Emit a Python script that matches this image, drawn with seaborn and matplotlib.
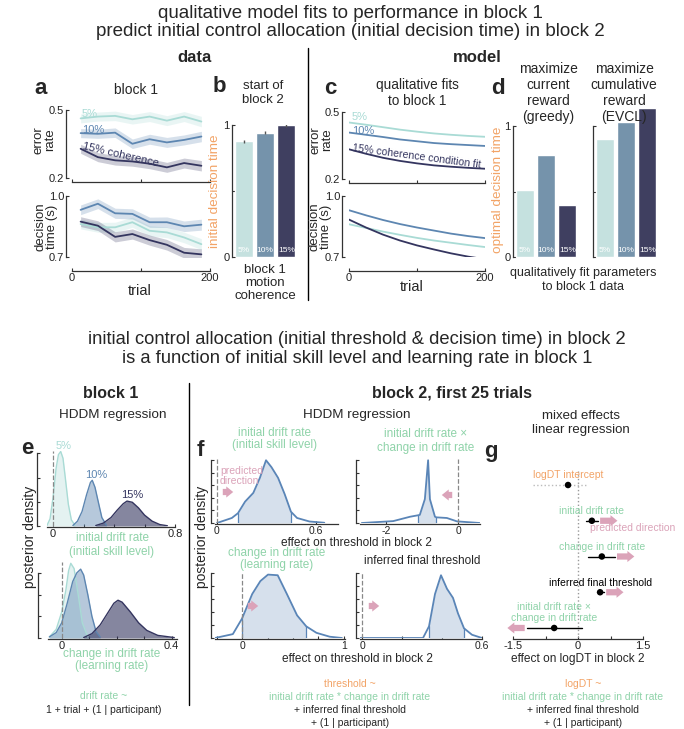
import numpy as np
import matplotlib.pyplot as plt
import seaborn as sns
from matplotlib.lines import Line2D
from matplotlib.patches import FancyArrowPatch

# ---------------- data ----------------
coherence = ['5%', '10%', '15%']

# a: block 1 behaviour, binned over trials
trial_bins = [12.5, 37.5, 62.5, 87.5, 112.5, 137.5, 162.5, 187.5]
err_5 = [0.463, 0.471, 0.474, 0.459, 0.471, 0.453, 0.471, 0.449]
err_10 = [0.398, 0.395, 0.400, 0.351, 0.371, 0.357, 0.368, 0.383]
err_15 = [0.329, 0.292, 0.278, 0.273, 0.263, 0.247, 0.266, 0.254]
err_sem = [0.020, 0.020, 0.021, 0.021, 0.022, 0.022, 0.022, 0.023]
dt_5 = [0.862, 0.846, 0.846, 0.871, 0.829, 0.821, 0.796, 0.763]
dt_10 = [0.932, 0.962, 0.915, 0.912, 0.871, 0.871, 0.851, 0.859]
dt_15 = [0.874, 0.854, 0.799, 0.813, 0.783, 0.760, 0.721, 0.713]
dt_sem = [0.024, 0.024, 0.025, 0.025, 0.025, 0.026, 0.026, 0.027]

# b: start of block 2
init_dt = [0.878, 0.942, 1.0]
init_dt_err = [0.012, 0.010, 0.012]

# c: qualitative model fits
fit_trials = [0, 25, 50, 75, 100, 125, 150, 175, 200]
fit_err_5 = [0.453, 0.443, 0.432, 0.421, 0.412, 0.404, 0.398, 0.393, 0.389]
fit_err_10 = [0.408, 0.398, 0.388, 0.377, 0.369, 0.361, 0.356, 0.352, 0.348]
fit_err_15 = [0.333, 0.313, 0.295, 0.281, 0.270, 0.261, 0.255, 0.250, 0.246]
fit_dt_5 = [0.861, 0.843, 0.825, 0.809, 0.794, 0.781, 0.770, 0.759, 0.749]
fit_dt_10 = [0.930, 0.905, 0.882, 0.862, 0.845, 0.830, 0.815, 0.803, 0.793]
fit_dt_15 = [0.884, 0.845, 0.810, 0.781, 0.757, 0.737, 0.718, 0.702, 0.689]

# d: optimal decision time
greedy_dt = [0.511, 0.777, 0.397]
evcl_dt = [0.899, 1.03, 1.137]

# e: block 1 HDDM posteriors
e_init_x = {
    '5%': [-0.04, -0.02, 0.0, 0.02, 0.035, 0.05, 0.065, 0.08, 0.10, 0.12, 0.145],
    '10%': [0.13, 0.16, 0.19, 0.22, 0.245, 0.257, 0.275, 0.30, 0.32, 0.35],
    '15%': [0.28, 0.33, 0.38, 0.42, 0.46, 0.485, 0.52, 0.56, 0.60, 0.65, 0.70, 0.75],
}
e_init_y = {
    '5%': [0.02, 0.3, 1.2, 2.4, 2.95, 3.08, 2.8, 2.0, 0.9, 0.25, 0.02],
    '10%': [0.02, 0.2, 0.6, 1.3, 1.8, 1.89, 1.6, 0.9, 0.35, 0.03],
    '15%': [0.02, 0.12, 0.35, 0.65, 0.92, 1.03, 0.98, 0.75, 0.45, 0.2, 0.06, 0.01],
}
e_learn_x = {
    '5%': [-0.045, -0.02, 0.0, 0.015, 0.025, 0.033, 0.045, 0.06, 0.075, 0.095],
    '10%': [-0.045, -0.02, 0.0, 0.02, 0.04, 0.055, 0.069, 0.08, 0.095, 0.11, 0.125, 0.14],
    '15%': [0.08, 0.11, 0.14, 0.17, 0.19, 0.205, 0.22, 0.25, 0.28, 0.31, 0.35, 0.41],
}
e_learn_y = {
    '5%': [0.05, 0.4, 1.2, 2.2, 3.1, 3.44, 3.2, 2.0, 0.7, 0.05],
    '10%': [0.05, 0.25, 0.7, 1.6, 2.6, 3.0, 3.17, 2.9, 2.0, 1.0, 0.3, 0.05],
    '15%': [0.02, 0.2, 0.6, 1.2, 1.6, 1.74, 1.65, 1.2, 0.7, 0.35, 0.12, 0.02],
}

# f: block 2 HDDM posteriors (effect on threshold), with shaded interval
f_init_x = [0.0, 0.09, 0.127, 0.17, 0.22, 0.26, 0.297, 0.33, 0.37, 0.41, 0.448, 0.485, 0.56, 0.65]
f_init_y = [0.0, 0.4, 0.78, 1.7, 2.4, 3.6, 5.0, 4.45, 3.6, 2.3, 0.9, 0.4, 0.12, 0.02]
f_init_ci = [0.127, 0.448]
f_inter_x = [-2.67, -1.8, -1.33, -1.1, -1.06, -0.92, -0.83, -0.78, -0.64, -0.6, -0.31, -0.03, 0.6]
f_inter_y = [0.0, 0.15, 0.5, 0.62, 0.65, 1.9, 5.0, 1.9, 0.5, 0.45, 0.4, 0.13, 0.0]
f_inter_ci = [-1.1, -0.6]
f_learn_x = [-0.265, -0.09, 0.0, 0.1, 0.18, 0.255, 0.35, 0.44, 0.54, 0.63, 0.73, 0.86, 0.98]
f_learn_y = [0.0, 0.3, 1.5, 3.4, 4.4, 4.9, 4.85, 3.4, 1.75, 0.9, 0.4, 0.1, 0.0]
f_learn_ci = [0.0, 0.63]
f_final_x = [-0.01, 0.305, 0.335, 0.365, 0.395, 0.425, 0.455, 0.48, 0.51, 0.55, 0.6]
f_final_y = [0.0, 0.0, 0.9, 3.4, 4.85, 3.8, 3.1, 1.9, 0.75, 0.25, 0.0]
f_final_ci = [0.335, 0.51]

# g: mixed effects regression on logDT
g_terms = ['logDT intercept', 'initial drift rate', 'change in drift rate',
           'inferred final threshold', 'initial drift rate \u00d7\nchange in drift rate']
g_est = [-0.23, 0.32, 0.55, 0.51, -0.55]
g_lo = [-1.04, 0.19, 0.23, 0.43, -1.18]
g_hi = [0.23, 0.46, 0.85, 0.60, 0.10]
g_pred_dir = [0, 1, 1, 1, -1]

# ---------------- style ----------------
W, H = 684, 729
c_line = ['#a9dbd5', '#5d86b1', '#34355f']
c_bar = ['#c5e1df', '#7593ab', '#3f3f60']
orange = '#f2a366'
green = '#8fd3a9'
pink = '#dba3b9'
f_line = '#5a85b7'
f_fill = '#d6e0ec'
TICK = 8

sns.set_style('ticks')
plt.rcParams['font.family'] = ['Liberation Sans', 'DejaVu Sans']
plt.rcParams['axes.edgecolor'] = '#333333'
plt.rcParams['axes.linewidth'] = 0.9

fig = plt.figure(figsize=(W / 100, H / 100), dpi=100)


def px_ax(x0, y0, x1, y1):
    return fig.add_axes([x0 / W, 1 - y1 / H, (x1 - x0) / W, (y1 - y0) / H])


def ftext(x, y, s, **kw):
    kw.setdefault('ha', 'center')
    kw.setdefault('va', 'center')
    return fig.text(x / W, 1 - y / H, s, **kw)


def fline(x0, y0, x1, y1, **kw):
    fig.add_artist(Line2D([x0 / W, x1 / W], [1 - y0 / H, 1 - y1 / H], transform=fig.transFigure, **kw))


ARROW = 'simple,head_length=5,head_width=8,tail_width=4.5'


def farrow(x0, y, x1):
    fig.add_artist(FancyArrowPatch((x0 / W, 1 - y / H), (x1 / W, 1 - y / H), transform=fig.transFigure,
                                   arrowstyle=ARROW, color=pink, mutation_scale=1, lw=0))


def style(ax, left=3, bottom=3, show_left=True, size=TICK):
    sns.despine(ax=ax, offset={'left': left, 'bottom': bottom}, left=not show_left)
    ax.tick_params(labelsize=size, length=2.5, width=0.8, pad=1.5, direction='in',
                   colors='#333333', labelcolor='#222222')
    ax.set_xlabel('')
    ax.set_ylabel('')
    ax.patch.set_alpha(0)


# ---------------- titles ----------------
ftext(350, 13, 'qualitative model fits to performance in block 1', fontsize=13.5)
ftext(350, 32, 'predict initial control allocation (initial decision time) in block 2', fontsize=13.5)
ftext(195, 58, 'data', fontsize=12, weight='bold')
ftext(477, 58, 'model', fontsize=12, weight='bold')
fline(308, 48, 308, 300, color='black', lw=1)
ftext(357, 340, 'initial control allocation (initial threshold & decision time) in block 2', fontsize=13.2)
ftext(357, 358, 'is a function of initial skill level and learning rate in block 1', fontsize=13.2)
fline(189, 383, 189, 705, color='black', lw=1)
ftext(111, 393, 'block 1', fontsize=11.5, weight='bold')
ftext(452, 393, 'block 2, first 25 trials', fontsize=11.5, weight='bold')
for letter, lx, ly in [('a', 41, 89), ('b', 219, 87), ('c', 330, 89), ('d', 498, 89),
                       ('e', 27, 448), ('f', 200, 451), ('g', 491, 452)]:
    ftext(lx, ly, letter, fontsize=16, weight='bold')

# ---------------- panel a ----------------
ftext(136, 90, 'block 1', fontsize=10)
axa1 = px_ax(72, 110, 210, 178)
axa2 = px_ax(72, 196, 210, 257)
for vals, col in zip([err_5, err_10, err_15], c_line):
    v = np.array(vals)
    axa1.fill_between(trial_bins, v - err_sem, v + err_sem, color=col, alpha=0.25, lw=0)
    sns.lineplot(x=trial_bins, y=vals, color=col, lw=1.3, ax=axa1)
for vals, col in zip([dt_5, dt_10, dt_15], c_line):
    v = np.array(vals)
    axa2.fill_between(trial_bins, v - dt_sem, v + dt_sem, color=col, alpha=0.25, lw=0)
    sns.lineplot(x=trial_bins, y=vals, color=col, lw=1.3, ax=axa2)
for ax, lim, lab, off in [(axa1, (0.2, 0.5), ['0.2', '0.5'], 3), (axa2, (0.7, 1.0), ['0.7', '1.0'], 10)]:
    ax.set_xlim(0, 200)
    ax.set_ylim(*lim)
    ax.set_yticks(lim)
    ax.set_yticklabels(lab)
    ax.set_xticks([0, 100, 200])
    style(ax, left=4, bottom=off)
axa1.set_xticklabels([])
axa2.set_xticklabels(['0', '', '200'])
ftext(44, 140, 'error\nrate', fontsize=9.5, rotation=90, linespacing=0.95)
ftext(46, 227, 'decision\ntime (s)', fontsize=9.5, rotation=90, linespacing=0.95)
ftext(140, 291, 'trial', fontsize=10.5)
ftext(82, 114, '5%', fontsize=8, color=c_line[0], ha='left')
ftext(82, 130, '10%', fontsize=8, color=c_line[1], ha='left')
ftext(83, 146, '15% coherence', fontsize=8, color=c_line[2], ha='left', rotation=-13, rotation_mode='anchor')

# ---------------- panel b ----------------
ftext(263, 93, 'start of\nblock 2', fontsize=9.5, linespacing=1.2)
axb = px_ax(233, 125, 297, 257)
sns.barplot(x=coherence, y=init_dt, hue=coherence, palette=c_bar, saturation=1, width=0.85,
            legend=False, ax=axb)
axb.errorbar(range(3), init_dt, yerr=init_dt_err, fmt='none', ecolor='#555555', elinewidth=1)
axb.set_ylim(0, 1)
axb.set_xlim(-0.5, 2.5)
axb.set_yticks([0, 0.5, 1])
axb.set_yticklabels(['0', '', '1'])
axb.set_xticks([])
style(axb, left=1, bottom=0)
axb.spines['bottom'].set_visible(False)
for i, lab in enumerate(coherence):
    axb.text(i, 0.02, lab, ha='center', va='bottom', fontsize=6, color='white')
ftext(215, 191, 'initial decision time', fontsize=9.7, color=orange, rotation=90)
ftext(265, 283, 'block 1\nmotion\ncoherence', fontsize=9.5, linespacing=1.1)

# ---------------- panel c ----------------
ftext(417, 93, 'qualitative fits\nto block 1', fontsize=9.8, linespacing=1.2)
axc1 = px_ax(349, 112, 485, 179)
axc2 = px_ax(349, 196, 485, 257)
for vals, col in zip([fit_err_5, fit_err_10, fit_err_15], c_line):
    sns.lineplot(x=fit_trials, y=vals, color=col, lw=1.3, ax=axc1)
for vals, col in zip([fit_dt_5, fit_dt_10, fit_dt_15], c_line):
    sns.lineplot(x=fit_trials, y=vals, color=col, lw=1.3, ax=axc2)
for ax, lim, lab, off in [(axc1, (0.2, 0.5), ['0.2', '0.5'], 3), (axc2, (0.7, 1.0), ['0.7', '1.0'], 10)]:
    ax.set_xlim(0, 200)
    ax.set_ylim(*lim)
    ax.set_yticks(lim)
    ax.set_yticklabels(lab)
    ax.set_xticks([0, 100, 200])
    style(ax, left=5, bottom=off)
axc1.set_xticklabels([])
axc2.set_xticklabels(['0', '', '200'])
ftext(321, 140, 'error\nrate', fontsize=9.5, rotation=90, linespacing=0.95)
ftext(320, 227, 'decision\ntime (s)', fontsize=9.5, rotation=90, linespacing=0.95)
ftext(412, 287, 'trial', fontsize=10.5)
ftext(352, 117, '5%', fontsize=8, color=c_line[0], ha='left')
ftext(352, 131, '10%', fontsize=8, color=c_line[1], ha='left')
ftext(352, 148, '15% coherence condition fit', fontsize=7.6, color=c_line[2], ha='left',
      rotation=-7.5, rotation_mode='anchor')

# ---------------- panel d ----------------
ftext(548, 93, 'maximize\ncurrent\nreward\n(greedy)', fontsize=10, linespacing=1.17)
ftext(624, 93, 'maximize\ncumulative\nreward\n(EVCL)', fontsize=10, linespacing=1.17)
axd1 = px_ax(514, 126, 578, 257)
axd2 = px_ax(594, 126, 658, 257)
for ax, vals, show_lab in [(axd1, greedy_dt, True), (axd2, evcl_dt, False)]:
    sns.barplot(x=coherence, y=vals, hue=coherence, palette=c_bar, saturation=1, width=0.85,
                legend=False, ax=ax)
    for p in ax.patches:
        p.set_clip_on(False)
    ax.set_ylim(0, 1)
    ax.set_xlim(-0.5, 2.5)
    ax.set_yticks([0, 0.5, 1])
    ax.set_yticklabels(['0', '', '1'] if show_lab else [])
    ax.set_xticks([])
    style(ax, left=1, bottom=0)
    ax.spines['bottom'].set_visible(False)
    for i, lab in enumerate(coherence):
        ax.text(i, 0.02, lab, ha='center', va='bottom', fontsize=6, color='white')
ftext(498, 190, 'optimal decision time', fontsize=9.7, color=orange, rotation=90)
ftext(583, 280, 'qualitatively fit parameters\nto block 1 data', fontsize=9, linespacing=1.12)

# ---------------- panel e ----------------
ftext(113, 415, 'HDDM regression', fontsize=9.7)
axe1 = px_ax(47, 451, 175, 526)
axe2 = px_ax(48, 562, 177, 638)
e_fill = ['#e4f2f1', '#5d86b1', '#34355f']
e_alpha = [1.0, 0.45, 0.6]
for ax, xs, ys in [(axe1, e_init_x, e_init_y), (axe2, e_learn_x, e_learn_y)]:
    for k, lab in enumerate(coherence):
        ax.fill_between(xs[lab], ys[lab], color=e_fill[k], alpha=e_alpha[k], lw=0)
        ax.plot(xs[lab], ys[lab], color=c_line[k], lw=1)
    ax.axvline(0, color='#888888', ls='--', lw=0.9)
    ax.set_yticks([0, 1, 2, 3])
    ax.set_yticklabels([])
    style(ax, left=7, bottom=1)
    ax.spines['left'].set_bounds(0, 3)
axe1.set_xlim(-0.04, 0.8)
axe1.set_ylim(0, 3.1)
axe1.set_xticks([0, 0.2, 0.4, 0.6, 0.8])
axe1.set_xticklabels(['0', '', '', '', '0.8'])
axe2.set_xlim(-0.05, 0.42)
axe2.set_ylim(0, 3.5)
axe2.set_xticks([0, 0.1, 0.2, 0.3, 0.4])
axe2.set_xticklabels(['0', '', '', '', '0.4'])
ftext(64, 446, '5%', fontsize=8, color=c_line[0])
ftext(96, 475, '10%', fontsize=8, color=c_line[1])
ftext(132, 495, '15%', fontsize=8, color=c_line[2])
ftext(112, 545, 'initial drift rate\n(initial skill level)', fontsize=8.5, color=green, linespacing=1.2)
ftext(112, 660, 'change in drift rate\n(learning rate)', fontsize=8.5, color=green, linespacing=1.1)
ftext(30, 537, 'posterior density', fontsize=10, rotation=90)
ftext(104, 696, 'drift rate ~', fontsize=7.5, color=green)
ftext(104, 710, '1 + trial + (1 | participant)', fontsize=7.5)

# ---------------- panel f ----------------
ftext(357, 415, 'HDDM regression', fontsize=9.7)


def posterior(ax, xs, ys, ci):
    xs = np.array(xs)
    ys = np.array(ys)
    inside = (xs >= ci[0]) & (xs <= ci[1])
    ax.fill_between(xs, ys, where=inside, color=f_fill, lw=0)
    for bound in ci:
        i = np.argmin(np.abs(xs - bound))
        ax.plot([xs[i], xs[i]], [0, ys[i]], color=f_line, lw=0.9)
    ax.plot(xs, ys, color=f_line, lw=1.3)
    ax.axvline(0, color='#888888', ls='--', lw=0.9)
    ax.set_ylim(0, 5.1)
    ax.set_yticks([0, 1, 2, 3, 4, 5])
    ax.set_yticklabels([])
    style(ax, left=3, bottom=1, size=7.5)
    ax.tick_params(pad=1)
    ax.spines['left'].set_bounds(0, 5)


axf1 = px_ax(215, 459, 338, 523)
posterior(axf1, f_init_x, f_init_y, f_init_ci)
axf1.set_xlim(-0.012, 0.733)
axf1.set_xticks([0, 0.6])
axf1.set_xticklabels(['0', '0.6'])
axf2 = px_ax(360, 459, 480, 523)
posterior(axf2, f_inter_x, f_inter_y, f_inter_ci)
axf2.set_xlim(-2.72, 0.61)
axf2.set_xticks([-2, 0])
axf2.set_xticklabels(['-2', '0'])
axf3 = px_ax(215, 572, 345, 638)
posterior(axf3, f_learn_x, f_learn_y, f_learn_ci)
axf3.set_xlim(-0.265, 1.01)
axf3.set_xticks([-0.25, 0, 0.25, 0.5, 0.75, 1])
axf3.set_xticklabels(['', '0', '', '', '', '1'])
axf4 = px_ax(360, 572, 482, 638)
posterior(axf4, f_final_x, f_final_y, f_final_ci)
axf4.set_xlim(-0.01, 0.6)
axf4.set_xticks([0, 0.2, 0.4, 0.6])
axf4.set_xticklabels(['0', '', '', '0.6'])

ftext(275, 439, 'initial drift rate\n(initial skill level)', fontsize=8.5, color=green, linespacing=1.1)
ftext(426, 441, 'initial drift rate \u00d7\nchange in drift rate', fontsize=8.5, color=green, linespacing=1.15)
ftext(277, 559, 'change in drift rate\n(learning rate)', fontsize=8.5, color=green, linespacing=1.1)
ftext(422, 561, 'inferred final threshold', fontsize=8.5)
ftext(220, 476, 'predicted\ndirection', fontsize=7.5, color=pink, ha='left', linespacing=1.1)
ftext(357, 543, 'effect on threshold in block 2', fontsize=8.6)
ftext(358, 659, 'effect on threshold in block 2', fontsize=8.6)
ftext(202, 537, 'posterior density', fontsize=10, rotation=90)
farrow(220, 492, 236)
farrow(455, 495, 439)
farrow(245, 606, 261)
farrow(366, 606, 382)
ftext(350, 684, 'threshold ~', fontsize=7.5, color=orange)
ftext(350, 697, 'initial drift rate * change in drift rate', fontsize=7.5, color=green)
ftext(350, 710, '+ inferred final threshold', fontsize=7.5)
ftext(350, 723, '+ (1 | participant)', fontsize=7.5)

# ---------------- panel g ----------------
ftext(581, 423, 'mixed effects\nlinear regression', fontsize=9.5, linespacing=1.25)
axg = px_ax(513, 470, 643, 638)
rows = np.arange(len(g_terms))
axg.axvline(0, color='#999999', ls=':', lw=1)
for r in rows:
    if r == 0:
        axg.plot([g_lo[r], g_hi[r]], [r, r], color='#bbbbbb', lw=1, ls=':')
    else:
        axg.plot([g_lo[r], g_hi[r]], [r, r], color='black', lw=1)
sns.scatterplot(x=g_est, y=rows, color='black', s=22, edgecolor='none', ax=axg, zorder=3)
label_col = [orange, green, green, 'black', green]
for r in rows:
    axg.text(g_est[r], r - 0.13, g_terms[r], ha='center', va='bottom',
             fontsize=7.5, color=label_col[r], linespacing=1.15)
    if g_pred_dir[r] != 0:
        start = g_hi[r] + 0.05 if g_pred_dir[r] > 0 else g_lo[r] - 0.05
        axg.annotate('', xy=(start + 0.4 * g_pred_dir[r], r), xytext=(start, r),
                     arrowprops=dict(arrowstyle=ARROW, color=pink, mutation_scale=1, lw=0,
                                     shrinkA=0, shrinkB=0),
                     annotation_clip=False)
axg.text(1.27, 1.2, 'predicted direction', ha='center', va='center', fontsize=7.5, color=pink)
axg.set_xlim(-1.5, 1.5)
axg.set_ylim(4.28, -0.42)
axg.set_xticks([-1.5, -0.75, 0, 0.75, 1.5])
axg.set_xticklabels(['-1.5', '', '0', '', '1.5'])
style(axg, left=0, bottom=1, show_left=False)
axg.set_yticks([])
ftext(578, 659, 'effect on logDT in block 2', fontsize=8.6)
ftext(583, 684, 'logDT ~', fontsize=7.5, color=orange)
ftext(583, 697, 'initial drift rate * change in drift rate', fontsize=7.5, color=green)
ftext(583, 710, '+ inferred final threshold', fontsize=7.5)
ftext(583, 723, '+ (1 | participant)', fontsize=7.5)

fig.savefig('out.png', dpi=100)
